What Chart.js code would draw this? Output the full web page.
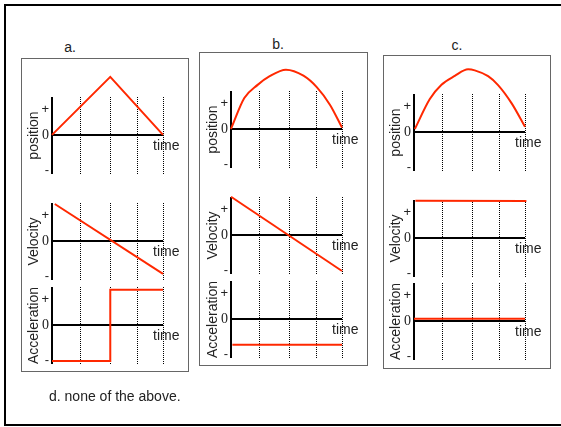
<!DOCTYPE html>
<html>
<head>
<meta charset="utf-8">
<script src="https://cdn.jsdelivr.net/npm/chart.js@4.4.1/dist/chart.umd.min.js"></script>
<style>
    body { margin: 0; background: #fff; font-family: "Liberation Sans", Arial, sans-serif; }
    #page { position: relative; width: 561px; height: 427px; overflow: hidden; }
    .frame { position: absolute; left: 4px; top: 4px; width: 620px; height: 422px; border: 2px solid #000; box-sizing: border-box; }
    .box { position: absolute; border: 1px solid #666; box-sizing: border-box; }
    .lbl { position: absolute; font-size: 14px; color: #222; white-space: nowrap; transform: translate(-50%, -50%); }
    canvas { position: absolute; }
</style>
</head>
<body>
<div id="page">
    <div class="frame"></div>
</div>

<script>
// labels
const panelLabels = ["a.", "b.", "c."]
const answerD = "d. none of the above."
const quantities = ["position", "Velocity", "Acceleration"]
const timeLabel = "time"

// y ticks ("-" sits lower than "+" is high)
const yTickValues = [-1.4, 0, 1]
const yTickLabels = ["-", "0", "+"]
// dotted time marks
const gridTimes = [1, 2.1, 3.05, 4]

// a.
const aPositionT = [0, 2.1, 4]
const aPositionV = [0, 2.28, 0]
const aVelocityT = [0.1, 4]
const aVelocityV = [1.45, -1.3]
const aAccelT = [0, 2.1, 2.1, 4]
const aAccelV = [-1.42, -1.42, 1.38, 1.38]

// b.
const bPositionT = [0, 0.48, 0.96, 1.38, 1.98, 2.61, 3.09, 3.57, 4]
const bPositionV = [0, 1.21, 1.73, 2.06, 2.33, 2.09, 1.64, 0.94, 0.05]
const bVelocityT = [0, 4]
const bVelocityV = [1.5, -1.42]
const bAccelT = [0.05, 4]
const bAccelV = [-1.02, -1.02]

// c.
const cPositionT = [0.03, 0.57, 0.99, 1.47, 1.95, 2.19, 2.67, 3.03, 3.52, 4]
const cPositionV = [0.11, 1.29, 1.85, 2.2, 2.46, 2.42, 2.19, 1.84, 1.12, 0.2]
const cVelocityT = [0.05, 4.05]
const cVelocityV = [1.46, 1.45]
const cAccelT = [0, 4]
const cAccelV = [0.08, 0.08]

const series = [
    [[aPositionT, aPositionV], [aVelocityT, aVelocityV], [aAccelT, aAccelV]],
    [[bPositionT, bPositionV], [bVelocityT, bVelocityV], [bAccelT, bAccelV]],
    [[cPositionT, cPositionV], [cVelocityT, cVelocityV], [cAccelT, cAccelV]],
]

// page layout (px)
const boxes = [
    { left: 21, top: 58, w: 168, h: 314, lx: 70, ly: 47 },
    { left: 199, top: 52, w: 169, h: 314, lx: 278, ly: 44 },
    { left: 383, top: 55, w: 168, h: 314, lx: 457, ly: 45 },
]
const axisX = [52, 231, 414]
const axisTops = [[98, 204, 288], [92, 198, 282], [95, 201, 284]]
const axisH = 75
const plotW = 111
const padL = 40, padT = 30, padR = 22, padB = 12

const red = "rgb(255, 40, 0)"
const page = document.getElementById("page")

function addDiv(cls, css, text) {
    const d = document.createElement("div")
    d.className = cls
    Object.assign(d.style, css)
    if (text) d.textContent = text
    page.appendChild(d)
    return d
}

// dotted lines + "time" under the zero line
const extras = {
    id: "extras",
    beforeDatasetsDraw(chart) {
        const { ctx, chartArea, scales: { x } } = chart
        ctx.save()
        ctx.strokeStyle = "#000"
        ctx.lineWidth = 1
        ctx.setLineDash([1, 1])
        gridTimes.forEach((t) => {
            const px = Math.round(x.getPixelForValue(t)) + 0.5
            ctx.beginPath()
            ctx.moveTo(px, chartArea.top - 1)
            ctx.lineTo(px, chartArea.bottom + 1)
            ctx.stroke()
        })
        ctx.restore()
    },
    afterDraw(chart) {
        const { ctx, scales: { x, y } } = chart
        ctx.save()
        ctx.font = '14px "Liberation Sans", Arial, sans-serif'
        ctx.fillStyle = "#222"
        ctx.textAlign = "left"
        ctx.textBaseline = "middle"
        ctx.fillText(timeLabel, x.getPixelForValue(4) - 10, y.getPixelForValue(0) + 11)
        ctx.restore()
    },
}

boxes.forEach((b, p) => {
    addDiv("box", { left: b.left + "px", top: b.top + "px", width: b.w + "px", height: b.h + "px" })
    addDiv("lbl", { left: b.lx + "px", top: b.ly + "px" }, panelLabels[p])

    quantities.forEach((name, q) => {
        const canvas = document.createElement("canvas")
        canvas.width = padL + plotW + padR
        canvas.height = padT + axisH + padB
        canvas.style.left = axisX[p] - padL + "px"
        canvas.style.top = axisTops[p][q] - padT + "px"
        page.appendChild(canvas)

        const [ts, vs] = series[p][q]
        const points = ts.map((t, i) => ({ x: t, y: vs[i] }))
        const curved = q === 0 && p > 0

        new Chart(canvas.getContext("2d"), {
            type: "line",
            data: {
                datasets: [
                    {
                        data: points,
                        borderColor: red,
                        borderWidth: 2,
                        pointRadius: 0,
                        fill: false,
                        clip: false,
                        tension: curved ? 0.4 : 0,
                        cubicInterpolationMode: curved ? "monotone" : "default",
                    },
                ],
            },
            options: {
                responsive: false,
                animation: false,
                events: [],
                layout: { padding: { left: 0, top: padT, right: padR, bottom: padB } },
                plugins: { legend: { display: false }, tooltip: { enabled: false } },
                scales: {
                    x: { type: "linear", min: 0, max: 4, display: false },
                    y: {
                        type: "linear",
                        min: -1.5,
                        max: 1.45,
                        afterBuildTicks: (s) => {
                            s.ticks = yTickValues.map((v) => ({ value: v }))
                        },
                        afterFit: (s) => {
                            s.width = padL
                        },
                        border: { display: true, color: "#000", width: 2 },
                        grid: {
                            drawTicks: false,
                            lineWidth: 2,
                            color: (c) => (c.tick && c.tick.value === 0 ? "#000" : "rgba(0,0,0,0)"),
                        },
                        ticks: {
                            autoSkip: false,
                            padding: 3,
                            color: "#222",
                            font: (c) =>
                                c.tick && c.tick.value === 0
                                    ? { family: '"Liberation Serif", serif', size: 14 }
                                    : { family: '"Liberation Sans", Arial, sans-serif', size: 13 },
                            callback: (v) => yTickLabels[yTickValues.indexOf(v)],
                        },
                        title: {
                            display: true,
                            text: name,
                            color: "#222",
                            font: { family: '"Liberation Sans", Arial, sans-serif', size: 14, lineHeight: 1 },
                            padding: { top: 15, bottom: 0 },
                        },
                    },
                },
            },
            plugins: [extras],
        })
    })
})

addDiv("lbl", { left: "49px", top: "396px", transform: "translate(0, -50%)" }, answerD)
</script>
</body>
</html>
